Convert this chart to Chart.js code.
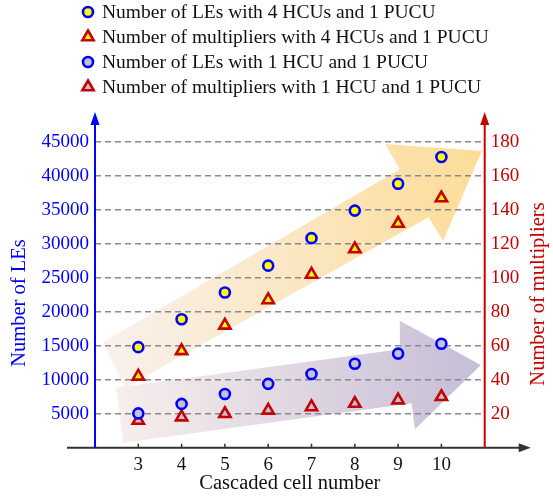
<!DOCTYPE html>
<html>
<head>
<meta charset="utf-8">
<script src="https://cdn.jsdelivr.net/npm/chart.js@4.4.0/dist/chart.umd.min.js"></script>
<style>
  body { margin: 0; background: #fff; }
  #wrap { width: 553px; height: 499px; position: relative; }
</style>
</head>
<body>
<div id="wrap"><canvas id="cells"></canvas></div>
<script>
// x axis: cascaded cell number
const cells = [3, 4, 5, 6, 7, 8, 9, 10]

// number of LEs (left axis)
const lesFourHcu = [14800, 18900, 22850, 26800, 30850, 34900, 38850, 42800]
const lesOneHcu = [5050, 6450, 7900, 9400, 10850, 12350, 13850, 15300]

// number of multipliers (right axis)
const multFourHcu = [42, 57, 72, 87, 102, 117, 132, 147]
const multOneHcu = [16, 18, 20, 22, 24, 26, 28, 30]

const seriesLabels = [
  'Number of LEs with 4 HCUs and 1 PUCU',
  'Number of multipliers with 4 HCUs and 1 PUCU',
  'Number of LEs with 1 HCU and 1 PUCU',
  'Number of multipliers with 1 HCU and 1 PUCU'
]

// axis ranges
const xRange = [2, 11]
const leMax = 45000, leStep = 5000
const multMax = 180, multStep = 20

const serif = '"Liberation Serif", "Times New Roman", serif'
const blue = '#0000ff'
const red = '#c40000'
const yellow = '#ffff00'
const grey = '#c4c2d4'

function pts(ys) {
  return cells.map((c, i) => ({ x: c, y: ys[i] }))
}

// decorative background arrows, given in (cell, LEs) axis units
const yellowArrow = [[2.19, 15560], [9.04, 40990], [8.70, 44710], [10.93, 43680], [10.04, 30480], [9.70, 33920], [2.69, 8790]]
const purpleArrow = [[2.485, 8830], [9.04, 14490], [9.04, 18700], [10.91, 12180], [9.39, 2710], [9.31, 6540], [2.65, 740]]

function fillArrow(chart, shape, c0, c1) {
  const ctx = chart.ctx, sx = chart.scales.x, sy = chart.scales.y
  const p = shape.map(s => [sx.getPixelForValue(s[0]), sy.getPixelForValue(s[1])])
  const xs = p.map(q => q[0])
  const g = ctx.createLinearGradient(Math.min(...xs), 0, Math.max(...xs), 0)
  g.addColorStop(0, c0)
  g.addColorStop(1, c1)
  ctx.save()
  ctx.beginPath()
  p.forEach((q, i) => i ? ctx.lineTo(q[0], q[1]) : ctx.moveTo(q[0], q[1]))
  ctx.closePath()
  ctx.fillStyle = g
  ctx.fill()
  ctx.restore()
}

function marker(ctx, style, x, y, r, fill, stroke) {
  ctx.save()
  ctx.fillStyle = fill
  ctx.strokeStyle = stroke
  ctx.lineWidth = 2.6
  Chart.helpers.drawPoint(ctx, { pointStyle: style, radius: r, rotation: 0, borderWidth: 2.6 }, x, y)
  ctx.restore()
}

const decor = {
  id: 'decor',
  beforeDraw(chart) {
    fillArrow(chart, yellowArrow, '#f9f1ee', '#fcdc97')
    fillArrow(chart, purpleArrow, '#f7efec', '#c6bdd7')
  },
  afterDraw(chart) {
    const ctx = chart.ctx, a = chart.chartArea, sx = chart.scales.x
    ctx.save()
    // x axis with arrow
    ctx.strokeStyle = '#333'
    ctx.fillStyle = '#333'
    ctx.lineWidth = 2
    ctx.beginPath()
    ctx.moveTo(a.left - 28, a.bottom)
    ctx.lineTo(a.right + 36, a.bottom)
    ctx.stroke()
    ctx.beginPath()
    ctx.moveTo(a.right + 46, a.bottom)
    ctx.lineTo(a.right + 34, a.bottom - 4.5)
    ctx.lineTo(a.right + 34, a.bottom + 4.5)
    ctx.fill()
    ctx.lineWidth = 1.5
    cells.forEach(c => {
      const px = sx.getPixelForValue(c)
      ctx.beginPath()
      ctx.moveTo(px, a.bottom)
      ctx.lineTo(px, a.bottom - 4)
      ctx.stroke()
    })
    // y axes with arrows
    const yaxis = (x, col) => {
      ctx.strokeStyle = col
      ctx.fillStyle = col
      ctx.lineWidth = 2
      ctx.beginPath()
      ctx.moveTo(x, a.bottom)
      ctx.lineTo(x, a.top - 20)
      ctx.stroke()
      ctx.beginPath()
      ctx.moveTo(x, a.top - 30)
      ctx.lineTo(x - 4.5, a.top - 17)
      ctx.lineTo(x + 4.5, a.top - 17)
      ctx.fill()
    }
    yaxis(a.left, blue)
    yaxis(a.right, red)

    // axis titles
    ctx.font = '20.5px ' + serif
    ctx.textAlign = 'center'
    ctx.textBaseline = 'middle'
    ctx.fillStyle = blue
    ctx.save()
    ctx.translate(20, 303)
    ctx.rotate(-Math.PI / 2)
    ctx.fillText('Number of LEs', 0, 0)
    ctx.restore()
    ctx.fillStyle = red
    ctx.save()
    ctx.translate(539, 294)
    ctx.rotate(-Math.PI / 2)
    ctx.fillText('Number of multipliers', 0, 0)
    ctx.restore()

    // legend
    ctx.font = '19.5px ' + serif
    ctx.textAlign = 'left'
    chart.data.datasets.forEach((d, i) => {
      const y = 12 + 25 * i
      marker(ctx, d.pointStyle, 88, y, d.pointRadius, d.backgroundColor, d.borderColor)
      ctx.fillStyle = '#111'
      ctx.fillText(d.label, 102, y + 1)
    })
    ctx.restore()
  }
}

new Chart(document.getElementById('cells'), {
  type: 'scatter',
  data: {
    datasets: [
      { label: seriesLabels[0], data: pts(lesFourHcu), yAxisID: 'y', pointStyle: 'circle', pointRadius: 5,
        borderWidth: 2.6, borderColor: blue, backgroundColor: yellow },
      { label: seriesLabels[1], data: pts(multFourHcu), yAxisID: 'y1', pointStyle: 'triangle', pointRadius: 6.5,
        borderWidth: 2.6, borderColor: red, backgroundColor: yellow },
      { label: seriesLabels[2], data: pts(lesOneHcu), yAxisID: 'y', pointStyle: 'circle', pointRadius: 5,
        borderWidth: 2.6, borderColor: blue, backgroundColor: grey },
      { label: seriesLabels[3], data: pts(multOneHcu), yAxisID: 'y1', pointStyle: 'triangle', pointRadius: 6.5,
        borderWidth: 2.6, borderColor: red, backgroundColor: grey }
    ]
  },
  options: {
    responsive: true,
    maintainAspectRatio: false,
    animation: false,
    layout: { padding: { top: 142, left: 0, right: 0, bottom: 0 } },
    plugins: { legend: { display: false }, tooltip: { enabled: false } },
    elements: { point: { hoverRadius: 5 } },
    scales: {
      x: {
        type: 'linear', min: xRange[0], max: xRange[1],
        grid: { display: false, drawTicks: false },
        border: { display: false },
        ticks: { stepSize: 1, padding: 6, color: '#111', font: { family: serif, size: 19 },
          callback: v => cells.includes(v) ? String(v) : '' },
        title: { display: true, text: 'Cascaded cell number', color: '#111',
          font: { family: serif, size: 20.5 }, padding: { top: 0, bottom: 3 } },
        afterFit: s => { s.height = 51.3 }
      },
      y: {
        position: 'left', min: 0, max: leMax,
        grid: { color: c => c.tick && c.tick.value === 0 ? 'rgba(0,0,0,0)' : '#8a8a8a', lineWidth: 1.6, drawTicks: false },
        border: { display: false, dash: [6, 4] },
        ticks: { stepSize: leStep, padding: 6, color: blue, font: { family: serif, size: 19 },
          callback: v => v === 0 ? '' : String(v) },
        afterFit: s => { s.width = 95 }
      },
      y1: {
        position: 'right', min: 0, max: multMax,
        grid: { display: false, drawTicks: false },
        border: { display: false },
        ticks: { stepSize: multStep, padding: 6, color: red, font: { family: serif, size: 19 },
          callback: v => v === 0 ? '' : String(v) },
        afterFit: s => { s.width = 68.3 }
      }
    }
  },
  plugins: [decor]
})
</script>
</body>
</html>
